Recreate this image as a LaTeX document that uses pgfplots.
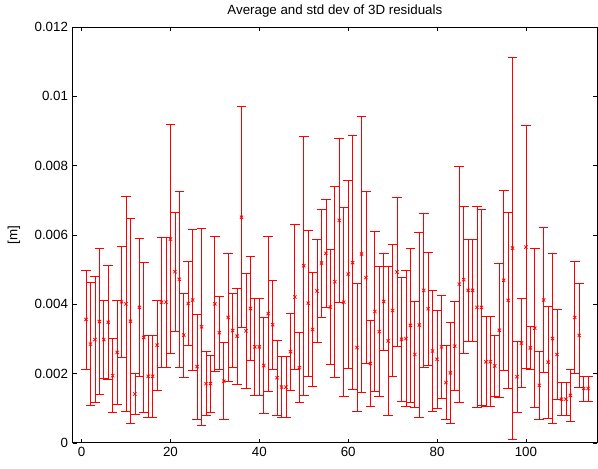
\documentclass[border=0pt]{standalone}
\usepackage{pgfplots}
\pgfplotsset{compat=1.18}
\usepackage{pgfplotstable}
\usepackage{fontspec}
\setmainfont{Liberation Sans}

\pgfplotstableread{
i m e
1 0.00356 0.00143
2 0.00285 0.00177
3 0.00298 0.00181
4 0.00350 0.00211
5 0.00298 0.00112
6 0.00348 0.00165
7 0.00194 0.00106
8 0.00261 0.00151
9 0.00407 0.00160
10 0.00401 0.00310
11 0.00351 0.00296
12 0.00141 0.00060
13 0.00391 0.00198
14 0.00304 0.00217
15 0.00192 0.00118
16 0.00192 0.00118
17 0.00282 0.00130
18 0.00406 0.00188
19 0.00406 0.00188
20 0.00588 0.00331
21 0.00494 0.00171
22 0.00472 0.00255
23 0.00311 0.00121
24 0.00402 0.00121
25 0.00412 0.00203
26 0.00220 0.00152
27 0.00335 0.00285
28 0.00171 0.00092
29 0.00171 0.00082
30 0.00401 0.00194
31 0.00318 0.00106
32 0.00178 0.00111
33 0.00362 0.00186
34 0.00324 0.00106
35 0.00308 0.00138
36 0.00651 0.00319
37 0.00323 0.00167
38 0.00388 0.00149
39 0.00277 0.00141
40 0.00277 0.00141
41 0.00223 0.00139
42 0.00373 0.00224
43 0.00341 0.00128
44 0.00188 0.00108
45 0.00161 0.00088
46 0.00161 0.00088
47 0.00263 0.00112
48 0.00421 0.00209
49 0.00217 0.00101
50 0.00511 0.00373
51 0.00403 0.00210
52 0.00327 0.00165
53 0.00438 0.00149
54 0.00519 0.00156
55 0.00547 0.00156
56 0.00392 0.00166
57 0.00465 0.00276
58 0.00642 0.00237
59 0.00406 0.00273
60 0.00487 0.00271
61 0.00520 0.00367
62 0.00275 0.00185
63 0.00545 0.00398
64 0.00477 0.00248
65 0.00229 0.00125
66 0.00379 0.00230
67 0.00321 0.00188
68 0.00408 0.00140
69 0.00294 0.00214
70 0.00382 0.00190
71 0.00493 0.00216
72 0.00299 0.00179
73 0.00301 0.00196
74 0.00339 0.00223
75 0.00255 0.00153
76 0.00340 0.00267
77 0.00440 0.00223
78 0.00387 0.00163
79 0.00265 0.00175
80 0.00241 0.00141
81 0.00277 0.00149
82 0.00174 0.00106
83 0.00202 0.00145
84 0.00279 0.00129
85 0.00458 0.00340
86 0.00471 0.00212
87 0.00440 0.00146
88 0.00440 0.00146
89 0.00391 0.00290
90 0.00391 0.00282
91 0.00234 0.00130
92 0.00234 0.00130
93 0.00222 0.00089
94 0.00325 0.00194
95 0.00469 0.00259
96 0.00411 0.00253
97 0.00562 0.00551
98 0.00191 0.00103
99 0.00288 0.00129
100 0.00565 0.00350
101 0.00274 0.00062
102 0.00331 0.00230
103 0.00166 0.00097
104 0.00412 0.00209
105 0.00233 0.00162
106 0.00301 0.00246
107 0.00255 0.00131
108 0.00126 0.00048
109 0.00126 0.00048
110 0.00137 0.00074
111 0.00362 0.00161
112 0.00310 0.00150
113 0.00157 0.00036
114 0.00157 0.00036
}\resid

\begin{document}
\begin{tikzpicture}
\begin{axis}[
  scale only axis,
  width=393pt, height=311.7pt,
  xmin=-2, xmax=116, ymin=0, ymax=0.012,
  xtick={0,20,40,60,80,100},
  ytick={0,0.002,0.004,0.006,0.008,0.01,0.012},
  scaled y ticks=false,
  yticklabel style={/pgf/number format/fixed, /pgf/number format/precision=3},
  /pgf/number format/assume math mode=true,
  tick align=inside,
  major tick length=3pt,
  tick style={black, line width=0.5pt},
  axis line style={black, line width=0.7pt},
  ticklabel style={font=\fontsize{10}{12}\selectfont},
  title={Average and std dev of 3D residuals},
  title style={font=\fontsize{10}{12}\selectfont, at={(axis description cs:0.5,1)}, anchor=base, yshift=3.5pt},
  ylabel={[m]},
  ylabel style={font=\fontsize{10}{12}\selectfont, at={(axis description cs:-0.112,0.5)}, anchor=center},
  every error bar/.append style={draw=red, color=red},
]
\addplot[color=red, draw=red, only marks, mark=x, mark size=1.7pt, line width=0.6pt,
  mark options={draw=red, solid},
  error bars/.cd, y dir=both, y explicit,
  error bar style={draw=red, color=red, solid, line width=0.6pt},
  error mark options={rotate=90, mark size=3.6pt, draw=red, color=red, solid, line width=0.6pt}]
  table[x=i, y=m, y error=e] {\resid};
\end{axis}
\pgfresetboundingbox
\path[use as bounding box] ([xshift=-54.5pt, yshift=-19.05pt]current axis.south west) rectangle ([xshift=0.75pt, yshift=20.25pt]current axis.north east);
\end{tikzpicture}
\end{document}
